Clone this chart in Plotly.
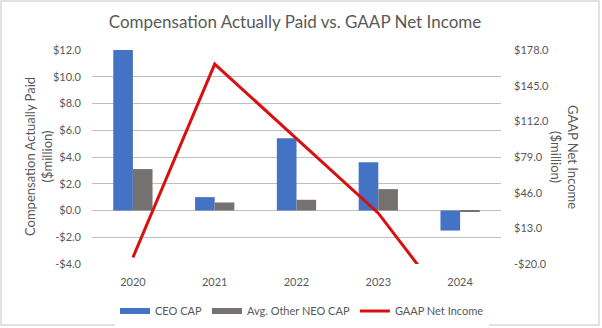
import plotly.graph_objects as go

years = ["2020", "2021", "2022", "2023", "2024"]
ceo_cap = [12.0, 1.0, 5.4, 3.6, -1.5]
neo_cap = [3.1, 0.6, 0.8, 1.6, -0.1]
net_income = [-14.0, 165.0, 96.0, 27.0, -72.0]

left_ticks = [-4, -2, 0, 2, 4, 6, 8, 10, 12]
right_ticks = [-20, 13, 46, 79, 112, 145, 178]

def money(v):
    return ("-$%.1f" % abs(v)) if v < 0 else ("$%.1f" % v)

FONT = "Lato, Carlito, Calibri, sans-serif"
GREY = "#595959"
BLUE = "#4472C4"
DGREY = "#767171"
RED = "#D81010"

fig = go.Figure()
fig.add_trace(go.Bar(x=years, y=ceo_cap, name="CEO CAP", marker_color=BLUE,
                     marker_line_width=0, showlegend=False))
fig.add_trace(go.Bar(x=years, y=neo_cap, name="Avg. Other NEO CAP", marker_color=DGREY,
                     marker_line_width=0, showlegend=False))
fig.add_trace(go.Scatter(x=years, y=net_income, name="GAAP Net Income", mode="lines",
                         line=dict(color=RED, width=3), yaxis="y2", showlegend=False))
# legend entries (wide swatches like the original)
for nm, col, w in [("CEO CAP", BLUE, 6), ("Avg. Other NEO CAP", DGREY, 6), ("GAAP Net Income", RED, 3)]:
    fig.add_trace(go.Scatter(x=[None], y=[None], mode="lines", name=nm,
                             line=dict(color=col, width=w)))

fig.update_layout(
    width=602, height=328,
    margin=dict(l=92, r=101, t=50, b=64, autoexpand=False),
    paper_bgcolor="white", plot_bgcolor="white",
    font=dict(family=FONT, color=GREY, size=11),
    title=dict(text="Compensation Actually Paid vs. GAAP Net Income",
               xref="container", x=295 / 602, xanchor="center",
               yref="container", y=1 - 22 / 328, yanchor="middle",
               font=dict(size=17, color=GREY, family=FONT)),
    barmode="group", bargap=0.52, bargroupgap=0,
    xaxis=dict(showgrid=False, showline=False, ticks="", tickfont=dict(size=11, color=GREY),
               ticklabelstandoff=10, automargin=False),
    yaxis=dict(range=[-4, 12], tickvals=left_ticks, ticktext=[money(v) for v in left_ticks],
               showgrid=True, gridcolor="#BFBFBF", gridwidth=1, zeroline=False, automargin=False,
               tickfont=dict(size=11, color=GREY), ticks="", ticklabelstandoff=10),
    yaxis2=dict(range=[-20, 178], tickvals=right_ticks, ticktext=[money(v) for v in right_ticks],
                overlaying="y", side="right", showgrid=False, zeroline=False, automargin=False,
                tickfont=dict(size=11, color=GREY), ticks="", ticklabelstandoff=12),
    legend=dict(orientation="h", x=(302 - 92) / 409, xanchor="center", y=-47 / 214, yanchor="middle",
                font=dict(size=11, color=GREY), itemwidth=30, traceorder="normal",
                tracegroupgap=0),
    shapes=[dict(type="rect", xref="paper", yref="paper", x0=-91/409, x1=(409+98)/409,
                 y0=-61/214, y1=(214+49)/214, line=dict(color="#D9D9D9", width=1.5))],
    annotations=[
        dict(text="Compensation Actually Paid<br>($million)", xref="paper", yref="paper",
             x=-54/409, y=0.5, textangle=-90, showarrow=False, xanchor="center", yanchor="middle",
             font=dict(size=13, color=GREY)),
        dict(text="GAAP Net Income<br>($million)", xref="paper", yref="paper",
             x=(409+64)/409, y=0.5, textangle=90, showarrow=False, xanchor="center", yanchor="middle",
             font=dict(size=13, color=GREY)),
    ],
)

fig.write_html("out.html")
